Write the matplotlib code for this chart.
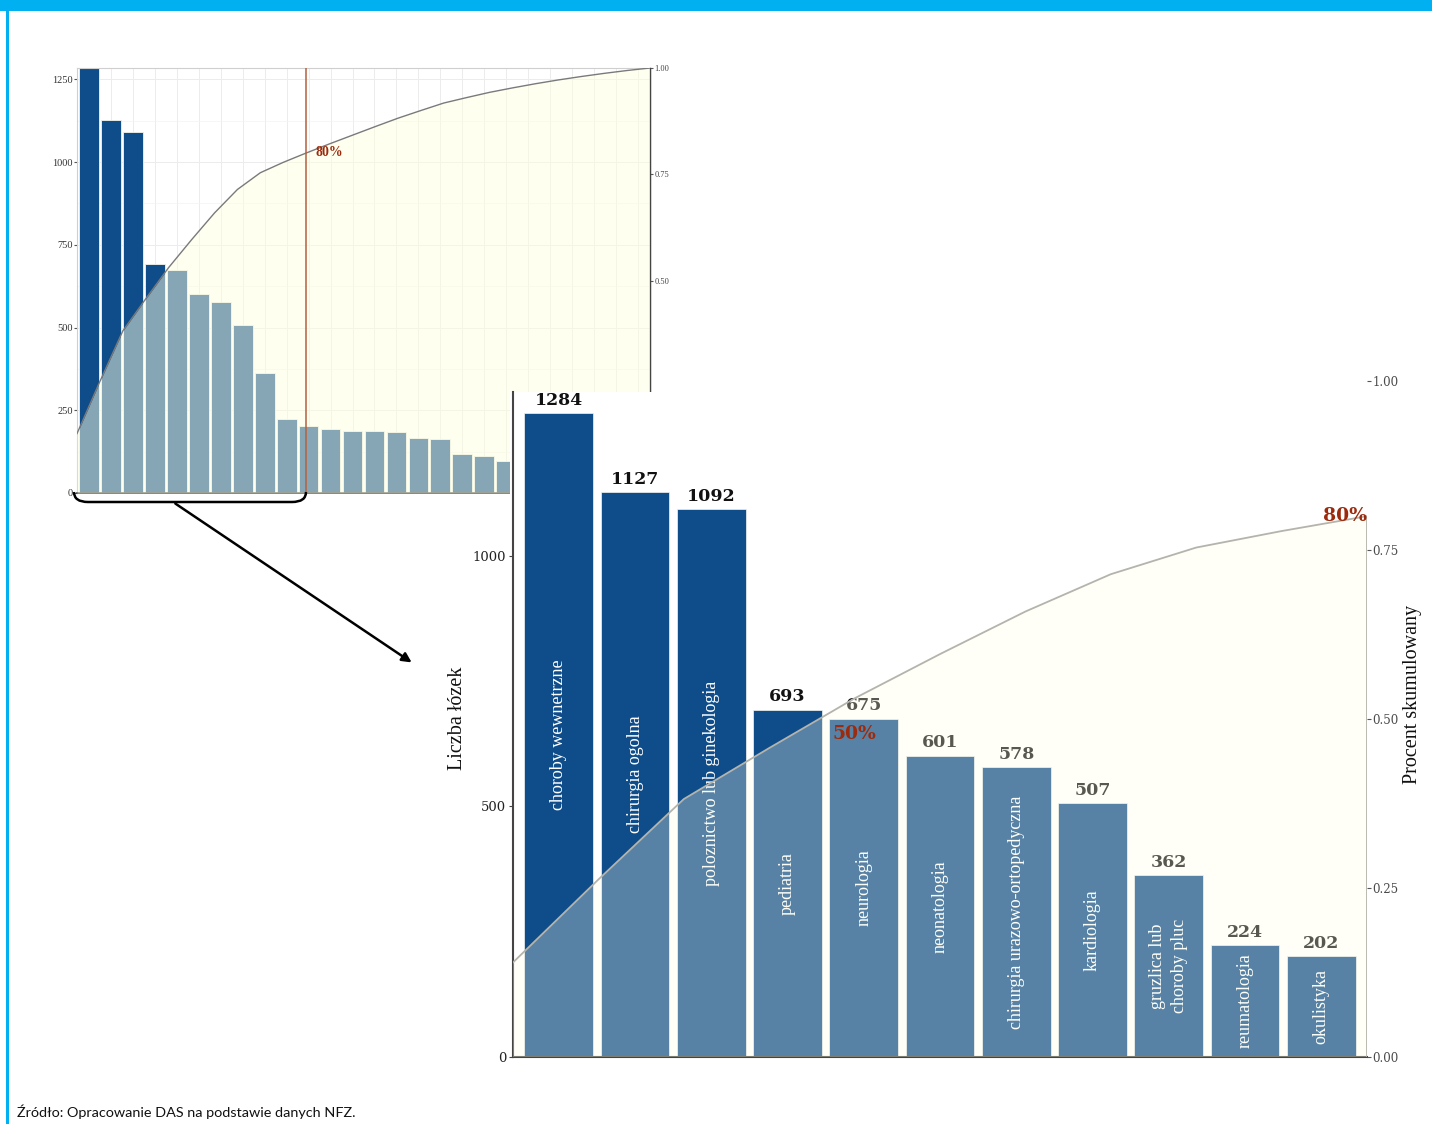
import numpy as np
import matplotlib.pyplot as plt
from matplotlib.patches import Rectangle, PathPatch, FancyArrowPatch
from matplotlib.path import Path

# Liczba lozek w 26 specjalnosciach (posortowane malejaco)
beds_all = [1284, 1127, 1092, 693, 675, 601, 578, 507, 362, 224, 202,
            194, 187, 187, 183, 166, 162, 118, 113, 96, 90, 82, 74, 68, 62, 54]
top_names = ['choroby wewnetrzne', 'chirurgia ogolna', 'poloznictwo lub ginekologia',
             'pediatria', 'neurologia', 'neonatologia', 'chirurgia urazowo-ortopedyczna',
             'kardiologia', 'gruzlica lub\nchoroby pluc', 'reumatologia', 'okulistyka']
main_yticks = [0, 500, 1000]
main_pticks = [0.0, 0.25, 0.50, 0.75, 1.00]
small_yticks = [0, 250, 500, 750, 1000, 1250]
small_pticks = [0.50, 0.75, 1.00]

DARK = '#0f4d8a'
RED = '#9c2a0c'
W, H = 1432, 1124

beds_all = np.array(beds_all)
cum = np.cumsum(beds_all) / beds_all.sum()
n_top = len(top_names)
top_beds = beds_all[:n_top]


def box(l, t, r, b):
    return [l / W, 1 - b / H, (r - l) / W, (b - t) / H]


def fp(x, y):
    return (x / W, 1 - y / H)


fig = plt.figure(figsize=(W / 100, H / 100), dpi=100)

# ---------------- small overview chart ----------------
axs = fig.add_axes(box(77, 68, 650, 493))
axs.set_zorder(1)
n_all = len(beds_all)
xs_lim = (-0.55, n_all - 1 + 0.55)
s_scale = beds_all.max()
xs = np.arange(n_all)
axs.bar(xs, beds_all, width=0.9, color=DARK, edgecolor='#f4f4ea', linewidth=0.6, zorder=2)
xc_s = np.linspace(xs_lim[0], xs_lim[1], n_all)
axs.fill_between(xc_s, 0, cum * s_scale, color='#ffffe0', alpha=0.5, lw=0, zorder=3)
axs.plot(xc_s, cum * s_scale, color='#7a7a7a', lw=1.0, zorder=4)
i80 = np.argmax(cum >= 0.8 - 1e-3)
axs.axvline(xc_s[i80], color='#b5603f', lw=1.1, zorder=4)
axs.annotate('80%', (xc_s[i80], cum[i80] * s_scale), xytext=(7, 0), textcoords='offset points',
             va='center', ha='left', color=RED, fontsize=10, fontweight='bold',
             family='Liberation Serif', zorder=5)
axs.set_xlim(*xs_lim)
axs.set_ylim(0, s_scale)
axs.set_xticks(xs)
axs.set_xticklabels([])
axs.tick_params(axis='x', length=0)
axs.set_yticks(small_yticks)
axs.set_yticks(np.arange(125, 1284, 250), minor=True)
axs.set_yticklabels([str(v) for v in small_yticks], family='Liberation Serif', fontsize=7.5, color='#333')
axs.tick_params(axis='y', length=2, color='#555', pad=1)
axs.tick_params(axis='y', which='minor', length=0)
axs.grid(True, color='#ececec', lw=0.7, zorder=0)
axs.grid(True, which='minor', axis='y', color='#f3f3f3', lw=0.5)
axs.set_axisbelow(True)
for side in ['top', 'left']:
    axs.spines[side].set_color('#cfcfcf')
    axs.spines[side].set_linewidth(0.8)
axs.spines['bottom'].set_color('#444')
axs.spines['bottom'].set_linewidth(1.2)
axs.spines['right'].set_color('#444')
axs.spines['right'].set_linewidth(1.0)

axs2 = axs.twinx()
axs2.set_zorder(1.5)
axs2.set_ylim(0, 1)
axs2.set_yticks(small_pticks)
axs2.set_yticklabels(['%.2f' % v for v in small_pticks], family='Liberation Serif', fontsize=6, color='#444')
axs2.tick_params(axis='y', length=2, pad=1, color='#555')
for side in ['top', 'left', 'bottom']:
    axs2.spines[side].set_visible(False)
axs2.spines['right'].set_color('#444')

# ---------------- main (zoomed) chart ----------------
ax = fig.add_axes(box(513, 381, 1367, 1057))
ax.set_zorder(2)
ax.patch.set_visible(False)
scale = top_beds.max() * 1.05
top_frac = (1057 - 392) / (1057 - 381)
ax.add_patch(Rectangle((-0.004, 0), 1.004, top_frac, transform=ax.transAxes,
                       facecolor='white', edgecolor='none', zorder=0, clip_on=False))

xm_lim = (-0.6, n_top - 1 + 0.6)
xm = np.arange(n_top)
ax.bar(xm, top_beds, width=0.9, color=DARK, edgecolor='#f6f6ee', linewidth=0.5, zorder=2)
for i, v in enumerate(top_beds):
    ax.text(i, v / 2, top_names[i], rotation=90, ha='center', va='center', color='white',
            fontsize=13, family='Liberation Serif', linespacing=1.35, zorder=2.5)
    ax.annotate(str(v), (i, v), xytext=(0, 3), textcoords='offset points', ha='center',
                va='bottom', fontsize=12.5, fontweight='bold', family='DejaVu Serif',
                color='#111', zorder=2.6)

xc_m = np.linspace(xm_lim[0], xm_lim[1], n_top)
cm = cum[:n_top] * scale
ax.fill_between(xc_m, 0, cm, facecolor=(1, 1, 0.906, 0.3), edgecolor='none', zorder=3)
ax.plot(np.append(xc_m, xc_m[-1]), np.append(cm, 0), color='#b4b4ac', lw=1.3, zorder=3.1)

i50 = np.argmax(cum >= 0.5)
ax.annotate('50%', (xc_m[i50], 0.5 * scale), xytext=(0, -4), textcoords='offset points',
            ha='center', va='top', color=RED, fontsize=13.5, fontweight='bold',
            family='DejaVu Serif', zorder=4)
ax.annotate('80%', (xc_m[-1], cm[-1]), xytext=(0, 0), textcoords='offset points',
            ha='right', va='center', color=RED, fontsize=13.5, fontweight='bold',
            family='DejaVu Serif', zorder=4)

ax.set_xlim(*xm_lim)
ax.set_ylim(0, scale)
ax.set_xticks([])
ax.set_yticks(main_yticks)
ax.set_yticklabels([str(v) for v in main_yticks], family='DejaVu Serif', fontsize=9.5, color='#222')
ax.tick_params(axis='y', length=3, color='#444', pad=2)
for side in ['top', 'right']:
    ax.spines[side].set_visible(False)
ax.spines['left'].set_bounds(0, top_frac * scale)
ax.spines['left'].set_color('#444')
ax.spines['left'].set_linewidth(1.5)
ax.spines['bottom'].set_color('#444')
ax.spines['bottom'].set_linewidth(1.5)

ax2 = ax.twinx()
ax2.set_zorder(3)
ax2.set_ylim(0, 1)
ax2.set_yticks(main_pticks)
ax2.set_yticklabels(['%.2f' % v for v in main_pticks], family='DejaVu Serif', fontsize=8.5, color='#4a4a4a')
ax2.tick_params(axis='y', length=3, color='#555', pad=1)
for side in ['top', 'left', 'bottom', 'right']:
    ax2.spines[side].set_visible(False)

fig.text(*fp(458, 718), 'Liczba łózek', rotation=90, ha='center', va='center',
         fontsize=14.5, family='Liberation Serif', color='#111')
fig.text(*fp(1413, 694), 'Procent skumulowany', rotation=90, ha='center', va='center',
         fontsize=14.5, family='Liberation Serif', color='#111')

# ---------------- bracket and arrow ----------------
verts = [fp(74, 492), fp(74, 502), fp(88, 502), fp(292, 502), fp(306, 502), fp(306, 492)]
codes = [Path.MOVETO, Path.CURVE3, Path.CURVE3, Path.LINETO, Path.CURVE3, Path.CURVE3]
fig.add_artist(PathPatch(Path(verts, codes), transform=fig.transFigure, fill=False,
                         edgecolor='black', lw=1.8, zorder=10))
fig.add_artist(FancyArrowPatch(fp(173, 502), fp(414, 664), transform=fig.transFigure,
                               arrowstyle='-|>', mutation_scale=14, lw=1.8, color='black',
                               zorder=10))

# ---------------- frame and source ----------------
fig.add_artist(Rectangle(fp(0, 11), 1, 11 / H, transform=fig.transFigure,
                         facecolor='#00b0f0', edgecolor='none', zorder=20))
fig.add_artist(Rectangle(fp(6, H), 3 / W, 1, transform=fig.transFigure,
                         facecolor='#00b0f0', edgecolor='none', zorder=20))
fig.text(*fp(17, 1112), 'Źródło: Opracowanie DAS na podstawie danych NFZ.', ha='left', va='center',
         fontsize=10.4, family='Lato', color='#111')

fig.savefig('out.png', dpi=100)
